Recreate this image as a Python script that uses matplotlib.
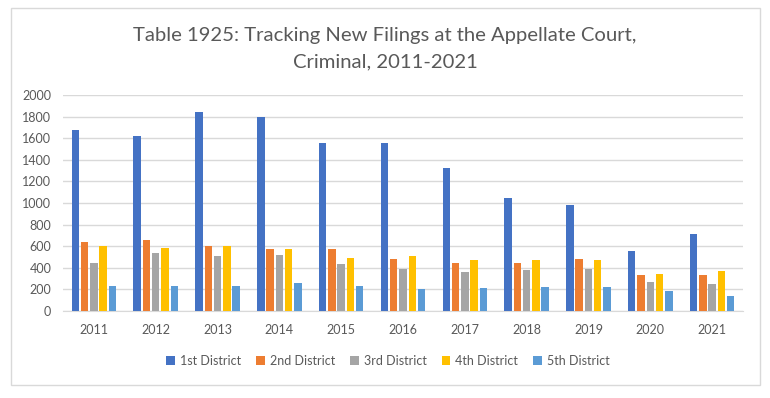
import matplotlib
matplotlib.use("Agg")
import matplotlib.pyplot as plt
import numpy as np
from matplotlib.patches import Rectangle

years = ["2011", "2012", "2013", "2014", "2015", "2016", "2017", "2018", "2019", "2020", "2021"]
district_names = ["1st District", "2nd District", "3rd District", "4th District", "5th District"]
first = [1680, 1620, 1840, 1800, 1560, 1560, 1320, 1050, 980, 560, 710]
second = [640, 660, 600, 570, 575, 480, 440, 440, 480, 330, 330]
third = [445, 540, 510, 520, 435, 385, 360, 380, 385, 270, 250]
fourth = [600, 580, 600, 570, 495, 505, 475, 475, 475, 345, 375]
fifth = [235, 235, 235, 255, 235, 200, 215, 220, 225, 185, 140]
series = [first, second, third, fourth, fifth]
colors = ["#4472C4", "#ED7D31", "#A5A5A5", "#FFC000", "#5B9BD5"]

plt.rcParams['font.family'] = ['Lato', 'DejaVu Sans']
fig = plt.figure(figsize=(7.7, 3.98), dpi=100)
ax = fig.add_axes([63/770, 1-311/398, (743-63)/770, (311-95)/398])

x = np.arange(len(years))
pitch = 0.15
width = 0.12
for i, (vals, c, name) in enumerate(zip(series, colors, district_names)):
    ax.bar(x + (i - 2) * pitch, vals, width=width, color=c, label=name, zorder=3)

ax.set_xlim(-0.5, len(years) - 0.5)
ax.set_ylim(0, 2000)
ax.set_yticks(range(0, 2001, 200))
ax.set_xticks(x)
ax.set_xticklabels(years)
ax.grid(axis='y', color='#d9d9d9', linewidth=1, zorder=0)
for s in ['top', 'right', 'left']:
    ax.spines[s].set_visible(False)
ax.spines['bottom'].set_color('#d9d9d9')
ax.tick_params(axis='both', length=0, labelsize=9, labelcolor='#595959')
ax.tick_params(axis='x', pad=9)
ax.tick_params(axis='y', pad=8.5)

fig.text(0.5, 1-36/398, "Table 1925: Tracking New Filings at the Appellate Court,",
         ha='center', va='center', fontsize=14.6, color='#595959')
fig.text(0.5, 1-62/398, "Criminal, 2011-2021",
         ha='center', va='center', fontsize=14.6, color='#595959')

leg = fig.legend(loc='center', bbox_to_anchor=(388/770, 1-361/398), ncol=5, frameon=False,
                 fontsize=9, handlelength=0.7, handleheight=0.7, handletextpad=0.4,
                 columnspacing=1.2, labelcolor='#595959')

fig.patches.append(Rectangle((11/770, 1-385/398), (760-11)/770, (385-8)/398,
                             transform=fig.transFigure, fill=False,
                             edgecolor='#d9d9d9', linewidth=1))

fig.savefig("out.png", dpi=100)
